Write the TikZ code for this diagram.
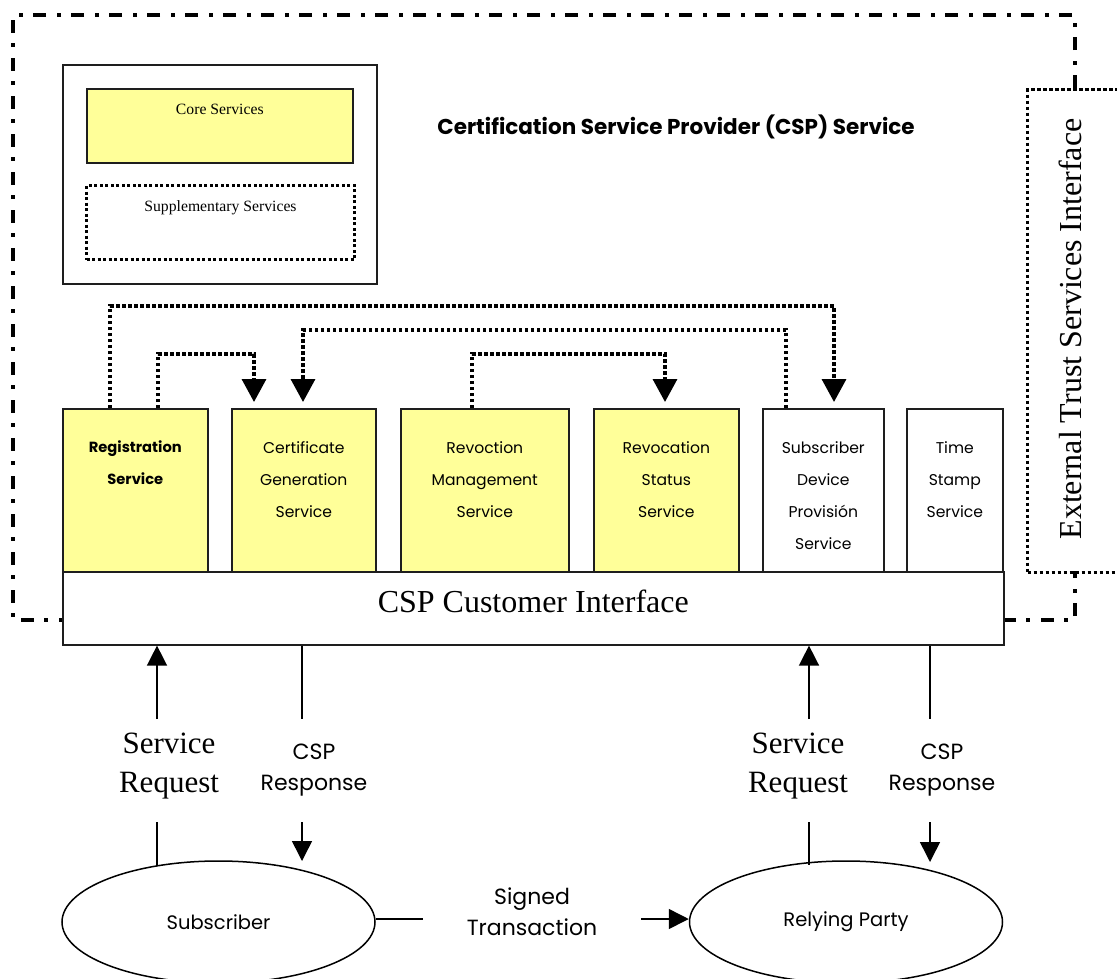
\documentclass[tikz,border=0pt]{standalone}
\usepackage{fontspec}
\setmainfont{Liberation Serif}
\newfontfamily\gothic{Poppins}
\usetikzlibrary{arrows.meta,shapes.geometric,calc}
\definecolor{paleyellow}{RGB}{255,255,153}
\definecolor{boxline}{RGB}{30,30,30}
\begin{document}
\begin{tikzpicture}[x=1pt,y=-1pt,
  box/.style={draw=boxline,line width=1.6pt,anchor=north west,inner sep=0pt},
  core/.style={box,fill=paleyellow},
  dashdot/.style={line width=3.2pt,dash pattern=on 13pt off 10pt on 4pt off 11pt},
  dotline/.style={line width=3.4pt,dash pattern=on 3.5pt off 2.5pt},
  dotconn/.style={dotline,-{Triangle[width=24pt,length=23pt]}},
  arr/.style={line width=1.5pt,-{Triangle[width=20pt,length=20pt]}},
  plain/.style={line width=1.5pt},
  svctext/.style={anchor=north,inner sep=0pt,align=center,font=\gothic\fontsize{15.6}{32}\selectfont},
  serifbig/.style={inner sep=0pt,align=center,font=\fontsize{31}{39}\selectfont},
  gothlbl/.style={inner sep=0pt,align=center,font=\gothic\fontsize{22}{31}\selectfont},
]
\useasboundingbox (0,0) rectangle (1117,978);

% outer CSP service boundary (dash-dot)
\draw[dashdot] (1075,88) -- (1075,15) -- (13,15) -- (13,620) -- (62,620);
\draw[dashdot] (1003,620) -- (1075,620) -- (1075,571);

% External trust services interface
\node[box,draw=black,dotline,minimum width=110pt,minimum height=483pt] (ext) at (1026,88) {};
\node[rotate=90,inner sep=0pt,font=\fontsize{32}{38}\selectfont] (extT) at (1070,329) {External Trust Services Interface};

% legend
\node[box,minimum width=314pt,minimum height=219pt] (legend) at (62,64) {};
\node[core,minimum width=266pt,minimum height=74pt] (coreS) at (86,88) {};
\node[anchor=base,inner sep=0pt,font=\fontsize{15.7}{18}\selectfont] (coreT) at ($(coreS.north)+(0,26)$) {Core Services};
\node[box,draw=black,line width=3pt,dash pattern=on 3pt off 2.5pt,minimum width=268pt,minimum height=74pt] (supp) at (85,184) {};
\node[anchor=base,inner sep=0pt,font=\fontsize{15.7}{18}\selectfont] (suppT) at ($(supp.north)+(0,27)$) {Supplementary Services};

% title
\node[anchor=base,inner sep=0pt,font=\gothic\bfseries\fontsize{21.5}{24}\selectfont] (title) at (676,134) {Certification Service Provider (CSP) Service};

% service boxes
\node[core,minimum width=145pt,minimum height=164pt] (reg) at (62,408) {};
\node[core,minimum width=144pt,minimum height=164pt] (cg)  at (231,408) {};
\node[core,minimum width=168pt,minimum height=164pt] (rm)  at (400,408) {};
\node[core,minimum width=145pt,minimum height=164pt] (rs)  at (593,408) {};
\node[box,fill=white,minimum width=121pt,minimum height=164pt] (sd)  at (762,408) {};
\node[box,fill=white,minimum width=96pt,minimum height=164pt] (ts)  at (906,408) {};

\node[svctext,font=\gothic\bfseries\fontsize{14.7}{32}\selectfont] (regT) at ($(reg.north)+(0,33)$) {Registration\\Service};
\node[svctext] (cgT) at ($(cg.north)+(0,33)$) {Certificate\\Generation\\Service};
\node[svctext] (rmT) at ($(rm.north)+(0,33)$) {Revoction\\Management\\Service};
\node[svctext] (rsT) at ($(rs.north)+(0,33)$) {Revocation\\Status\\Service};
\node[svctext] (sdT) at ($(sd.north)+(0,33)$) {Subscriber\\Device\\Provisión\\Service};
\node[svctext] (tsT) at ($(ts.north)+(0,33)$) {Time\\Stamp\\Service};

% customer interface
\node[box,fill=white,minimum width=941pt,minimum height=73pt] (iface) at (62,571) {};
\node[anchor=base,inner sep=0pt,font=\fontsize{32}{38}\selectfont] (ifaceT) at ($(iface.north)+(0,41)$) {CSP Customer Interface};

% dotted inter-service connectors
\coordinate (r1) at ($(reg.north west)+(48,0)$);
\coordinate (r2) at ($(reg.north west)+(96,0)$);
\coordinate (c1) at ($(cg.north west)+(23,-6)$);
\coordinate (c2) at ($(cg.north west)+(72,-6)$);
\coordinate (m1) at ($(rm.north west)+(72,0)$);
\coordinate (s1) at ($(rs.north west)+(72,-6)$);
\coordinate (d1) at ($(sd.north west)+(24,0)$);
\coordinate (d2) at ($(sd.north west)+(72,-6)$);
\draw[dotconn] (r1) -- ++(0,-102) -| (d2);
\draw[dotconn] (d1) -- ++(0,-78) -| (c2);
\draw[dotconn] (r2) -- ++(0,-54) -| (c1);
\draw[dotconn] (m1) -- ++(0,-54) -| (s1);

% parties
\node[ellipse,draw,line width=1.5pt,minimum width=313pt,minimum height=122pt,inner sep=0pt,font=\gothic\fontsize{19.5}{22}\selectfont] (sub) at (218.5,922) {Subscriber};
\node[ellipse,draw,line width=1.5pt,minimum width=313pt,minimum height=122pt,inner sep=0pt,font=\gothic\fontsize{19.5}{22}\selectfont] (rp) at (846,922) {Relying Party};

% request / response labels
\node[serifbig] (reqL) at (169,766) {Service\\Request};
\node[gothlbl] (resL) at (314,770) {CSP\\Response};
\node[serifbig] (reqR) at (798,766) {Service\\Request};
\node[gothlbl] (resR) at (942,770) {CSP\\Response};
\node[gothlbl] (sig) at (532,912) {Signed\\Transaction};

\coordinate (xa) at (157,0);
\coordinate (xb) at (302,0);
\coordinate (xc) at (809,0);
\coordinate (xd) at (930,0);

\draw[arr] (xa |- 0,719) -- (iface.south -| xa);
\draw[plain] (xa |- 0,822) -- (xa |- 0,866);
\draw[plain] (iface.south -| xb) -- (xb |- 0,719);
\draw[arr] (xb |- 0,822) -- (xb |- 0,861);
\draw[arr] (xc |- 0,719) -- (iface.south -| xc);
\draw[plain] (xc |- 0,822) -- (xc |- 0,865);
\draw[plain] (iface.south -| xd) -- (xd |- 0,719);
\draw[arr] (xd |- 0,822) -- (xd |- 0,862);

\coordinate (tl) at (423,919);
\coordinate (tr) at (641,919);
\draw[plain] (sub.east |- tl) -- (tl);
\draw[arr] (tr) -- (rp.west |- tr);
\end{tikzpicture}
\end{document}
